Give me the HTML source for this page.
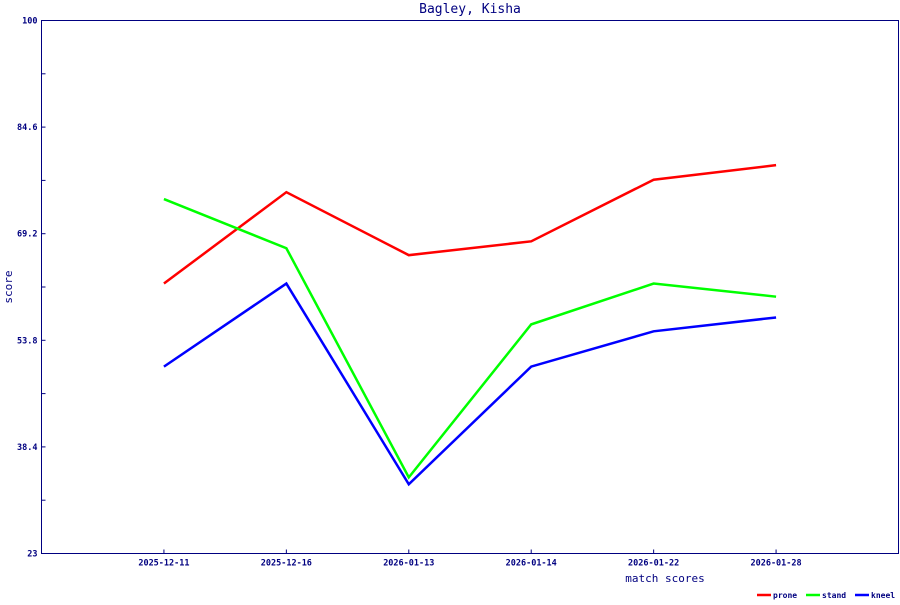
<!DOCTYPE html>
<html><head><meta charset="utf-8"><style>
body{margin:0;background:#fff}
svg text{font-family:"DejaVu Sans Mono","Liberation Mono",monospace;fill:#000080}
</style></head><body>
<svg id="chart" width="900" height="600" xmlns="http://www.w3.org/2000/svg">
<text x="470" y="13" text-anchor="middle" font-size="13">Bagley, Kisha</text>
<rect x="41.5" y="20.5" width="857" height="533" fill="none" stroke="#000080" stroke-width="1"/>
<g id="yaxis"></g>
<g id="xaxis"></g>
<g id="series"></g>
<text x="12" y="287" text-anchor="middle" font-size="11" transform="rotate(-90 12 287)">score</text>
<text x="665" y="582" text-anchor="middle" font-size="11">match scores</text>
<g id="legend"></g>
</svg>
<script>
const categories=["2025-12-11","2025-12-16","2026-01-13","2026-01-14","2026-01-22","2026-01-28"];
const prone=[62.0,75.2,66.1,68.1,77.0,79.1];
const stand=[74.2,67.1,34.0,56.1,62.0,60.1];
const kneel=[50.0,62.0,33.0,50.0,55.1,57.1];
const yTicks=[23,38.4,53.8,69.2,84.6,100];
const seriesNames=["prone","stand","kneel"];
const NS="http://www.w3.org/2000/svg";
const L=41.5,R=898.5,T=20.5,B=553.5,ymin=23,ymax=100;
const xs=i=>L+(R-L)*(i+1)/(categories.length+1);
const ys=v=>B-(v-ymin)/(ymax-ymin)*(B-T);
function mk(tag,attrs,parent){const e=document.createElementNS(NS,tag);for(const k in attrs)e.setAttribute(k,attrs[k]);parent.appendChild(e);return e;}
const ya=document.getElementById('yaxis');
yTicks.forEach((t,i)=>{
 const y=ys(t);
 const tk=mk('line',{x1:L,x2:L+4,y1:y,y2:y,stroke:'#000080'},ya);
 
 
 const lb=mk('text',{x:L-4,y:y+3,'text-anchor':'end','font-size':'8.5','font-weight':'bold'},ya);
 lb.textContent=String(t);
 
 
 if(i<yTicks.length-1){const m=(t+yTicks[i+1])/2;const mt=mk('line',{x1:L,x2:L+4,y1:ys(m),y2:ys(m),stroke:'#000080'},ya);
 
 }
});
const xa=document.getElementById('xaxis');
categories.forEach((c,i)=>{
 const x=xs(i);
 const tk=mk('line',{x1:x,x2:x,y1:B,y2:B-4,stroke:'#000080'},xa);
 
 
 const lb=mk('text',{x:x,y:B+12,'text-anchor':'middle','font-size':'8.5','font-weight':'bold'},xa);
 lb.textContent=c;
 
 
});
const sg=document.getElementById('series');
const colors=["#ff0000","#00ff00","#0000ff"];
[prone,stand,kneel].forEach((d,s)=>{
 const p=mk('polyline',{points:d.map((v,i)=>xs(i)+','+ys(v)).join(' '),fill:'none',stroke:colors[s],'stroke-width':'2.5'},sg);
 
 
});
const lg=document.getElementById('legend');
const lx=[757,806,855];
seriesNames.forEach((n,s)=>{
 const ln=mk('line',{x1:lx[s],x2:lx[s]+14,y1:595,y2:595,stroke:colors[s],'stroke-width':'2.5'},lg);
 
 
 const t=mk('text',{x:lx[s]+16,y:598,'font-size':'8','font-weight':'bold'},lg);
 t.textContent=n;
 
 
});
</script>
</body></html>
